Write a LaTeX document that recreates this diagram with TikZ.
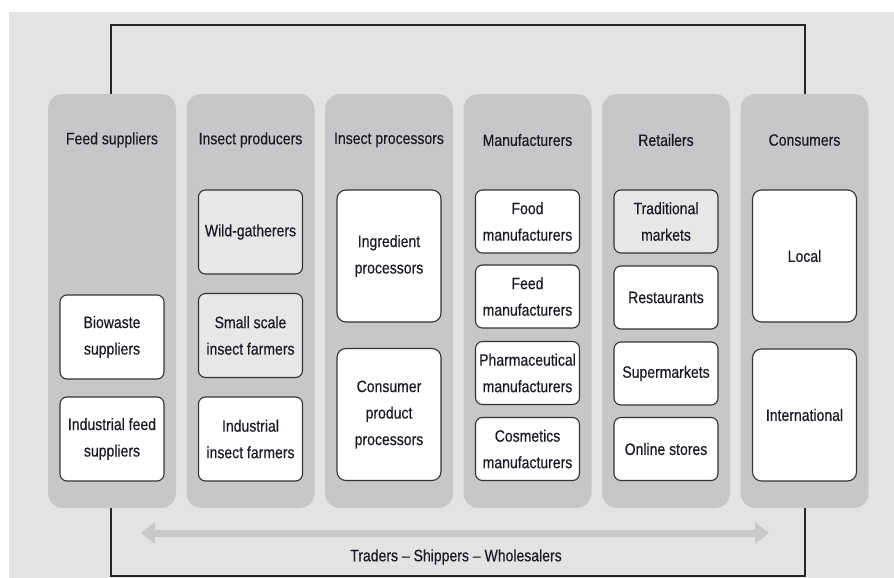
\documentclass[tikz,border=0pt]{standalone}
\usepackage{fontspec}
\setmainfont[FakeStretch=0.85,FakeBold=0.35]{Liberation Sans}
\usetikzlibrary{arrows.meta}
\definecolor{bgc}{HTML}{E2E3E3}
\definecolor{colc}{HTML}{C6C7C8}
\definecolor{lightbox}{HTML}{E6E7E7}
\definecolor{txt}{HTML}{1A1A24}
\definecolor{arrc}{HTML}{C8C9CA}
\begin{document}
\begin{tikzpicture}[x=1pt,y=-1pt,
  colbox/.style={rectangle,rounded corners=15pt,fill=colc,minimum width=128pt,minimum height=414pt,inner sep=0pt},
  head/.style={text=txt,font=\fontsize{16.5}{26.5}\selectfont,inner sep=0pt},
  ibox/.style={rectangle,rounded corners=7pt,draw=black!80,line width=1.1pt,fill=white,text=txt,
     font=\fontsize{16.5}{26.5}\selectfont,align=center,minimum width=104pt,inner sep=0pt},
  gbox/.style={ibox,fill=lightbox},
  h84/.style={minimum height=84pt},
  h63/.style={minimum height=63pt},
  h132/.style={minimum height=132pt,rounded corners=9pt}]
\useasboundingbox (0,0) rectangle (894,578);
\fill[bgc] (9,12) rectangle (894,578);
% frame
\coordinate (fTL) at (111,25);
\coordinate (fBR) at (805,576);
\draw[line width=1.4pt,black!85] (fTL) rectangle (fBR);
% columns
\node[colbox] (c1) at (112,301) {};
\node[colbox] (c2) at (250.5,301) {};
\node[colbox] (c3) at (389,301) {};
\node[colbox] (c4) at (527.5,301) {};
\node[colbox] (c5) at (666,301) {};
\node[colbox] (c6) at (804.5,301) {};
% headers
\node[head] (h1) at (112,140) {Feed suppliers};
\node[head] (h2) at (250.5,140) {Insect producers};
\node[head] (h3) at (389,140) {Insect processors};
\node[head] (h4) at (527.5,140) {Manufacturers};
\node[head] (h5) at (666,140) {Retailers};
\node[head] (h6) at (804.5,140) {Consumers};
% col1
\node[ibox,h84] (bio) at (112,337) {Biowaste\\suppliers};
\node[ibox,h84] (indf) at (112,439) {Industrial feed\\suppliers};
% col2
\node[gbox,h84] (wild) at (250.5,232) {Wild-gatherers};
\node[gbox,h84] (small) at (250.5,335.5) {Small scale\\insect farmers};
\node[ibox,h84] (indi) at (250.5,439) {Industrial\\insect farmers};
% col3
\node[ibox,h132] (ingr) at (389,256) {Ingredient\\processors};
\node[ibox,h132] (cons) at (389,414.5) {Consumer\\product\\processors};
% col4
\node[ibox,h63] (food) at (527.5,221.5) {Food\\manufacturers};
\node[ibox,h63] (feed) at (527.5,296.5) {Feed\\manufacturers};
\node[ibox,h63] (phar) at (527.5,373) {Pharmaceutical\\manufacturers};
\node[ibox,h63] (cosm) at (527.5,449) {Cosmetics\\manufacturers};
% col5
\node[gbox,h63] (trad) at (666,221.5) {Traditional\\markets};
\node[ibox,h63] (rest) at (666,297.5) {Restaurants};
\node[ibox,h63] (super) at (666,373.5) {Supermarkets};
\node[ibox,h63] (online) at (666,449) {Online stores};
% col6
\node[ibox,h132] (local) at (804.5,256) {Local};
\node[ibox,h132] (intl) at (804.5,415) {International};
% arrow
\coordinate (arrL) at (141,533);
\coordinate (arrR) at (769,533);
\draw[arrc,line width=7pt,{Triangle[length=14pt,width=21pt]}-{Triangle[length=14pt,width=21pt]}] (arrL) -- (arrR);
\node[head] (trad2) at (456,557) {Traders – Shippers – Wholesalers};
\end{tikzpicture}
\end{document}
